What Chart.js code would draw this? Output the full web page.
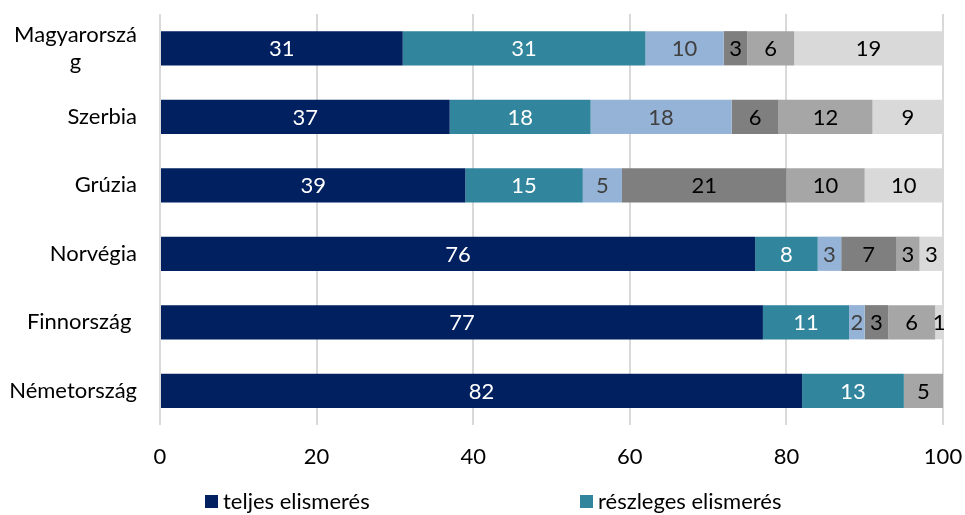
<!DOCTYPE html>
<html>
<head>
<meta charset="utf-8">
<script src="https://cdn.jsdelivr.net/npm/chart.js@4.4.1/dist/chart.umd.min.js"></script>
<style>
  html, body { margin: 0; padding: 0; background: #fff; }
  #wrap { width: 965px; height: 515px; }
</style>
</head>
<body>
<div id="wrap"><canvas id="c" width="965" height="515"></canvas></div>
<script>
// Countries (top to bottom)
const countries = [['Magyarorszá', 'g'], 'Szerbia', 'Grúzia', 'Norvégia', 'Finnország ', 'Németország'];

// Series values, percent
const teljes     = [31, 37, 39, 76, 77, 82];
const reszleges  = [31, 18, 15,  8, 11, 13];
const harmadik   = [10, 18,  5,  3,  2,  0];
const negyedik   = [ 3,  6, 21,  7,  3,  0];
const otodik     = [ 6, 12, 10,  3,  6,  5];
const hatodik    = [19,  9, 10,  3,  1,  0];

const seriesNames = ['teljes elismerés', 'részleges elismerés', 'kategória 3', 'kategória 4', 'kategória 5', 'kategória 6'];
const xTicks = [0, 20, 40, 60, 80, 100];

const colors = ['#002060', '#31859C', '#95B3D7', '#7F7F7F', '#A6A6A6', '#D9D9D9'];
const labelColors = ['#FFFFFF', '#FFFFFF', '#404040', '#000000', '#000000', '#000000'];

const FONT = 'Lato, "Open Sans", sans-serif';
const FS = 22;

const allSeries = [teljes, reszleges, harmadik, negyedik, otodik, hatodik];
const datasets = allSeries.map((vals, i) => ({
  label: seriesNames[i],
  data: vals.map(v => v === 0 ? null : v),
  backgroundColor: colors[i],
  borderWidth: 0,
  barPercentage: 1,
  categoryPercentage: 0.5
}));

// Value labels centred in each segment
const segmentLabels = {
  id: 'segmentLabels',
  afterDatasetsDraw(chart) {
    const ctx = chart.ctx;
    ctx.save();
    ctx.font = FS + 'px ' + FONT;
    ctx.textAlign = 'center';
    ctx.textBaseline = 'middle';
    chart.data.datasets.forEach((ds, di) => {
      const meta = chart.getDatasetMeta(di);
      meta.data.forEach((bar, i) => {
        const v = ds.data[i];
        if (v == null) return;
        const cx = (bar.x + bar.base) / 2;
        ctx.fillStyle = labelColors[di];
        ctx.fillText(String(v), cx, bar.y + 1);
      });
    });
    ctx.restore();
  }
};

// Category labels: block right-aligned, lines of a wrapped label centred on each other
const categoryLabels = {
  id: 'categoryLabels',
  afterDraw(chart) {
    const ctx = chart.ctx;
    const y = chart.scales.y;
    const right = chart.chartArea.left - 23;
    const lh = FS * 1.22;
    ctx.save();
    ctx.font = FS + 'px ' + FONT;
    ctx.fillStyle = '#000';
    ctx.textBaseline = 'middle';
    ctx.textAlign = 'center';
    chart.data.labels.forEach((lab, i) => {
      const lines = Array.isArray(lab) ? lab : [lab];
      const maxW = Math.max(...lines.map(l => ctx.measureText(l).width));
      const cx = right - maxW / 2;
      const cy = y.getPixelForTick(i);
      const top = cy - (lines.length - 1) * lh / 2;
      lines.forEach((l, k) => ctx.fillText(l, cx, top + k * lh));
    });
    ctx.restore();
  }
};

// Legend row under the axis (first two series)
const legendRow = {
  id: 'legendRow',
  afterDraw(chart) {
    const ctx = chart.ctx;
    const slots = [205, 580];
    const cy = 502;
    ctx.save();
    ctx.font = FS + 'px ' + FONT;
    ctx.textBaseline = 'middle';
    ctx.textAlign = 'left';
    slots.forEach((x, i) => {
      ctx.fillStyle = colors[i];
      ctx.fillRect(x, cy - 7, 13, 13);
      ctx.fillStyle = '#000';
      ctx.fillText(seriesNames[i], x + 18, cy);
    });
    ctx.restore();
  }
};

new Chart(document.getElementById('c'), {
  type: 'bar',
  data: { labels: countries, datasets },
  options: {
    indexAxis: 'y',
    responsive: false,
    animation: false,
    layout: { padding: { left: 8, right: 22, top: 14, bottom: 40 } },
    scales: {
      x: {
        stacked: true,
        min: 0,
        max: 100,
        afterBuildTicks(axis) { axis.ticks = xTicks.map(v => ({ value: v })); },
        afterFit(axis) { axis.height = 50; axis.paddingLeft = 0; axis.paddingRight = 0; },
        grid: { color: '#D9D9D9', lineWidth: 2, drawTicks: false },
        border: { display: false },
        ticks: { color: '#000', font: { family: FONT, size: FS }, padding: 19 }
      },
      y: {
        stacked: true,
        afterFit(axis) { axis.width = 152; },
        grid: { display: false },
        border: { display: false },
        ticks: { display: false, autoSkip: false }
      }
    },
    plugins: {
      tooltip: { enabled: false },
      legend: { display: false }
    }
  },
  plugins: [segmentLabels, categoryLabels, legendRow]
});
</script>
</body>
</html>
